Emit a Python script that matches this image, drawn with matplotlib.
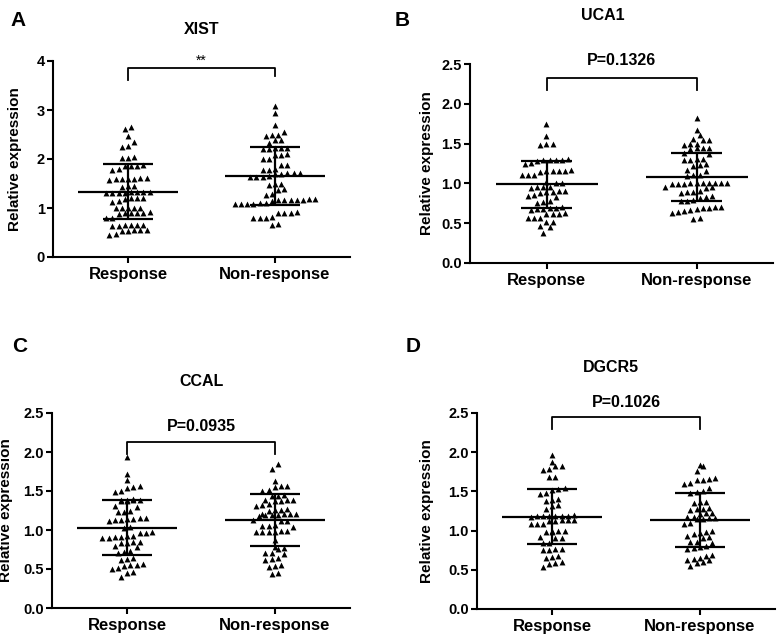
import numpy as np
import matplotlib
matplotlib.use("Agg")
import matplotlib.pyplot as plt

plt.rcParams["font.family"] = ["Liberation Sans", "DejaVu Sans"]
plt.rcParams["font.weight"] = "bold"

# -------------------------------------------------
# DATA
# -------------------------------------------------
groups = ["Response", "Non-response"]

xist_resp = [2.65, 2.62, 2.46, 2.34, 2.27, 2.24, 2.04, 2.03, 2.02,
             1.87, 1.86, 1.85, 1.85, 1.79, 1.77,
             1.61, 1.61, 1.60, 1.60, 1.60, 1.59, 1.58,
             1.45, 1.44, 1.43,
             1.33, 1.32, 1.32, 1.32, 1.31, 1.31, 1.30, 1.30,
             1.21, 1.20, 1.20, 1.19, 1.14, 1.13,
             1.01, 1.00, 1.00, 0.99, 0.99,
             0.91, 0.90, 0.90, 0.89, 0.89, 0.88,
             0.80, 0.79,
             0.66, 0.66, 0.65, 0.65, 0.64, 0.64,
             0.56, 0.55, 0.55, 0.54, 0.54,
             0.46, 0.45]
xist_nonresp = [3.09, 2.94, 2.70, 2.56, 2.49, 2.48, 2.47, 2.39, 2.38, 2.33,
                2.23, 2.22, 2.22, 2.21, 2.20,
                2.10, 2.09, 2.08, 2.00, 1.99,
                1.88, 1.87, 1.79, 1.78, 1.77,
                1.72, 1.71, 1.71, 1.70, 1.69, 1.65, 1.64, 1.64, 1.63,
                1.49, 1.48, 1.47, 1.38, 1.36, 1.28, 1.26,
                1.18, 1.18, 1.17, 1.17, 1.17, 1.16, 1.16, 1.15,
                1.10, 1.10, 1.09, 1.09, 1.08, 1.08,
                0.91, 0.90, 0.90, 0.89, 0.81, 0.80, 0.80, 0.79, 0.67, 0.66]

uca1_resp = [1.75, 1.59, 1.50, 1.49, 1.48,
             1.31, 1.30, 1.30, 1.29, 1.29, 1.28, 1.26, 1.25,
             1.17, 1.16, 1.16, 1.15, 1.15, 1.14, 1.11, 1.10, 1.10,
             1.02, 1.01, 1.00, 0.96, 0.95, 0.95, 0.94,
             0.90, 0.90, 0.89, 0.89, 0.88, 0.85, 0.84, 0.83,
             0.78, 0.77, 0.76,
             0.70, 0.69, 0.69, 0.68, 0.68, 0.67,
             0.63, 0.62, 0.62, 0.61, 0.57, 0.57, 0.56,
             0.52, 0.51, 0.46, 0.45, 0.38]
uca1_nonresp = [1.82, 1.67, 1.61, 1.56, 1.55, 1.54, 1.50, 1.49, 1.48,
                1.45, 1.44, 1.44, 1.43, 1.38, 1.37,
                1.31, 1.31, 1.30, 1.30, 1.24, 1.23, 1.22, 1.17, 1.16, 1.11, 1.10, 1.09,
                1.01, 1.01, 1.00, 1.00, 1.00, 1.00, 1.00, 0.99, 0.99, 0.99,
                0.96, 0.95, 0.94, 0.90, 0.89, 0.89, 0.88, 0.84, 0.83, 0.82,
                0.79, 0.78, 0.78, 0.70, 0.70, 0.69, 0.69, 0.68, 0.67,
                0.65, 0.64, 0.63, 0.56, 0.55]

ccal_resp = [1.94, 1.72, 1.64, 1.56, 1.55, 1.54, 1.50, 1.49,
             1.40, 1.39, 1.39, 1.38, 1.38, 1.37, 1.37,
             1.31, 1.30, 1.24, 1.23, 1.23,
             1.15, 1.15, 1.14, 1.14, 1.13, 1.13, 1.12,
             1.04, 1.03, 0.97, 0.96, 0.96,
             0.92, 0.92, 0.91, 0.91, 0.90, 0.90,
             0.85, 0.84, 0.83, 0.83, 0.79, 0.78,
             0.73, 0.72, 0.71, 0.64, 0.63, 0.62,
             0.56, 0.55, 0.55, 0.54, 0.51, 0.50, 0.46, 0.45, 0.40]
ccal_nonresp = [1.85, 1.78, 1.63, 1.57, 1.56, 1.55, 1.51, 1.50,
                1.45, 1.44, 1.43, 1.39, 1.38, 1.38, 1.37, 1.37,
                1.33, 1.32, 1.31, 1.27, 1.26, 1.26, 1.25,
                1.21, 1.20, 1.20, 1.20, 1.19, 1.19, 1.19, 1.18,
                1.13, 1.12, 1.12, 1.06, 1.05, 1.05, 1.04,
                0.99, 0.99, 0.98, 0.98, 0.97, 0.97,
                0.87, 0.78, 0.77, 0.76, 0.70, 0.70, 0.69,
                0.64, 0.63, 0.62, 0.55, 0.54, 0.53, 0.45, 0.44]

dgcr5_resp = [1.97, 1.88, 1.83, 1.82, 1.78, 1.77, 1.69, 1.68,
              1.54, 1.53, 1.52, 1.48, 1.47, 1.40, 1.39, 1.38, 1.33, 1.32, 1.27,
              1.20, 1.19, 1.19, 1.19, 1.18, 1.18, 1.18, 1.17,
              1.14, 1.13, 1.13, 1.12, 1.12, 1.09, 1.08, 1.08,
              1.00, 0.99, 0.99, 0.98, 0.98, 0.92, 0.91, 0.90,
              0.84, 0.84, 0.76, 0.76, 0.75, 0.75,
              0.67, 0.66, 0.65, 0.60, 0.59, 0.58, 0.54]
dgcr5_nonresp = [1.84, 1.83, 1.76, 1.67, 1.66, 1.65, 1.64, 1.61, 1.60,
                 1.54, 1.50, 1.49, 1.48, 1.37, 1.36, 1.35,
                 1.29, 1.28, 1.27, 1.26, 1.23, 1.22, 1.21,
                 1.17, 1.17, 1.16, 1.16, 1.15, 1.15, 1.10, 1.09,
                 0.99, 0.98, 0.97, 0.96, 0.93, 0.92, 0.91,
                 0.86, 0.85, 0.84, 0.80, 0.79, 0.78, 0.77,
                 0.69, 0.68, 0.65, 0.64, 0.63, 0.62, 0.60, 0.59, 0.55]

# mean and SD as drawn
xist_mean = [1.33, 1.65]
xist_sd = [0.56, 0.59]
uca1_mean = [0.99, 1.085]
uca1_sd = [0.295, 0.30]
ccal_mean = [1.03, 1.128]
ccal_sd = [0.35, 0.33]
dgcr5_mean = [1.177, 1.135]
dgcr5_sd = [0.35, 0.35]

p_labels = ["**", "P=0.1326", "P=0.0935", "P=0.1026"]

# -------------------------------------------------
# PANEL LAYOUT (pixels: left, top, right, bottom)
# -------------------------------------------------
W, H = 779, 637
panels = [
    dict(letter="A", title="XIST", box=(53, 61, 350, 257), ymax=4, yticks=[0, 1, 2, 3, 4], fmt="{:.0f}",
         data=(xist_resp, xist_nonresp), mean=xist_mean, sd=xist_sd, p=p_labels[0],
         bracket=(3.85, 3.61, 3.69), ptext_y=4.0, title_xy=(202, 29), letter_xy=(18, 20), ylab_x=22),
    dict(letter="B", title="UCA1", box=(470, 64, 773, 263), ymax=2.5, yticks=[0, 0.5, 1, 1.5, 2, 2.5], fmt="{:.1f}",
         data=(uca1_resp, uca1_nonresp), mean=uca1_mean, sd=uca1_sd, p=p_labels[1],
         bracket=(2.33, 2.17, 2.17), ptext_y=2.54, title_xy=(603, 15), letter_xy=(402, 20), ylab_x=434),
    dict(letter="C", title="CCAL", box=(52, 413, 350, 608), ymax=2.5, yticks=[0, 0.5, 1, 1.5, 2, 2.5], fmt="{:.1f}",
         data=(ccal_resp, ccal_nonresp), mean=ccal_mean, sd=ccal_sd, p=p_labels[2],
         bracket=(2.13, 1.98, 1.98), ptext_y=2.33, title_xy=(201, 381), letter_xy=(20, 347), ylab_x=13),
    dict(letter="D", title="DGCR5", box=(477, 413, 775, 609), ymax=2.5, yticks=[0, 0.5, 1, 1.5, 2, 2.5], fmt="{:.1f}",
         data=(dgcr5_resp, dgcr5_nonresp), mean=dgcr5_mean, sd=dgcr5_sd, p=p_labels[3],
         bracket=(2.45, 2.30, 2.30), ptext_y=2.64, title_xy=(611, 367), letter_xy=(413, 347), ylab_x=434),
]


def swarm(ax, vals, xc, step=6.2, row_h=6.0):
    # GraphPad-like scatter: points grouped into rows, each row centred
    tr = ax.transData
    pts = tr.transform(np.column_stack([np.full(len(vals), xc), vals]))
    ys = pts[:, 1]
    x0 = pts[0, 0]
    xs = np.zeros(len(vals))
    order = np.argsort(ys)
    rows, cur = [], [order[0]]
    for i in order[1:]:
        if ys[i] - ys[cur[0]] < row_h:
            cur.append(i)
        else:
            rows.append(cur)
            cur = [i]
    rows.append(cur)
    for row in rows:
        n = len(row)
        for k, i in enumerate(row):
            xs[i] = x0 + (k - (n - 1) / 2) * step
    back = tr.inverted().transform(np.column_stack([xs, ys]))
    ax.scatter(back[:, 0], back[:, 1], marker="^", s=18, color="black", linewidths=0, zorder=3, clip_on=False)


fig = plt.figure(figsize=(W / 100, H / 100), dpi=100)

for pn in panels:
    l, t, r, b = pn["box"]
    ax = fig.add_axes([l / W, 1 - b / H, (r - l) / W, (b - t) / H])
    ax.set_xlim(-0.51, 1.51)
    ax.set_ylim(0, pn["ymax"])
    for s in ["top", "right"]:
        ax.spines[s].set_visible(False)
    for s in ["left", "bottom"]:
        ax.spines[s].set_linewidth(1.5)
    ax.set_xticks([0, 1])
    ax.set_xticklabels(groups, fontsize=12, fontweight="bold")
    ax.set_yticks(pn["yticks"])
    ax.set_yticklabels([pn["fmt"].format(v) for v in pn["yticks"]], fontsize=10.5, fontweight="bold")
    ax.tick_params(width=1.5, length=4, pad=2)
    ax.tick_params(axis="x", pad=3)
    ax.set_ylabel("Relative expression", fontsize=11, fontweight="bold")
    ax.yaxis.set_label_coords(-(l - pn["ylab_x"]) / (r - l), 0.5)

    for j, vals in enumerate(pn["data"]):
        swarm(ax, vals, j)
        m, sd = pn["mean"][j], pn["sd"][j]
        ax.hlines(m, j - 0.34, j + 0.34, color="black", lw=1.6, zorder=4)
        ax.hlines([m - sd, m + sd], j - 0.17, j + 0.17, color="black", lw=1.6, zorder=4)
        ax.vlines(j, m - sd, m + sd, color="black", lw=1.6, zorder=4)

    top, leg_l, leg_r = pn["bracket"]
    ax.plot([0, 0, 1, 1], [leg_l, top, top, leg_r], color="black", lw=1.3, clip_on=False)
    if pn["p"] == "**":
        ax.text(0.5, pn["ptext_y"], pn["p"], ha="center", va="center", fontsize=10,
                fontweight="normal", clip_on=False)
    else:
        ax.text(0.5, pn["ptext_y"], pn["p"], ha="center", va="center", fontsize=11.5,
                fontweight="bold", clip_on=False)

    tx, ty = pn["title_xy"]
    fig.text(tx / W, 1 - ty / H, pn["title"], ha="center", va="center", fontsize=11.5, fontweight="bold")
    lx, ly = pn["letter_xy"]
    fig.text(lx / W, 1 - ly / H, pn["letter"], ha="center", va="center", fontsize=15, fontweight="bold")

fig.savefig("out.png", dpi=100)
